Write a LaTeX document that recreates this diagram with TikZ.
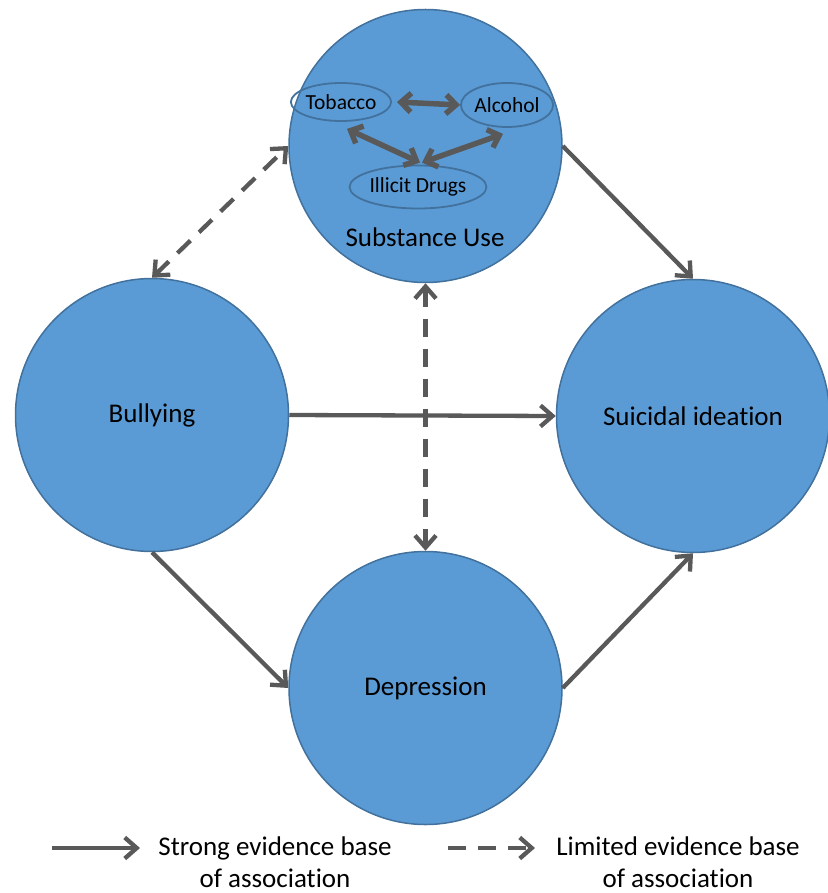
\documentclass[tikz,border=0pt]{standalone}
\usepackage{fontspec}
\setmainfont{Carlito}[Ligatures=CommonOff]
\usetikzlibrary{arrows.meta,shapes.geometric}
\definecolor{cfill}{HTML}{5B9BD5}
\definecolor{cedge}{HTML}{41719C}
\definecolor{carrow}{HTML}{595959}
\begin{document}
\begin{tikzpicture}[x=1pt,y=-1pt,
  tip/.tip={Straight Barb[length=12pt,width=21pt]},
  itip/.tip={Straight Barb[length=10pt,width=19pt]},
  big/.style={circle, fill=cfill, draw=cedge, line width=1.5pt, minimum size=273pt, inner sep=0pt, font=\fontsize{27}{32}\selectfont},
  small/.style={ellipse, draw=cedge, line width=1.8pt, inner sep=0pt, font=\fontsize{21.5}{26}\selectfont},
  link/.style={draw=carrow, line width=4.3pt, -tip},
  dlink/.style={draw=carrow, line width=4.3pt, dash pattern=on 18pt off 12pt, tip-tip},
  inlink/.style={draw=carrow, line width=5.5pt, itip-itip},
  legtext/.style={align=center, inner sep=0pt, font=\fontsize{27}{32}\selectfont}]
\useasboundingbox (0,0) rectangle (827,893);
\fill[white] (0,0) rectangle (827,893);

\node[big] (su) at (425.5,146) {};
\node[big] (bul) at (152,415) {Bullying};
\node[big] (si) at (693,416) {Suicidal ideation};
\node[big] (dep) at (425.5,688) {Depression};

\node[small, minimum width=91pt, minimum height=38pt] (tob) at (341,102) {Tobacco};
\node[small, minimum width=91pt, minimum height=44pt] (alc) at (507,105) {Alcohol};
\node[small, minimum width=137pt, minimum height=43pt] (ill) at (418,187) {Illicit Drugs};
\node[font=\fontsize{27}{32}\selectfont] (sul) at (425,237) {Substance Use};

\draw[inlink] ([xshift=5pt]tob.east) -- (alc.west);
\draw[inlink] ([shift={(6,7)}]tob.south) -- ([shift={(2,-2)}]ill.north);
\draw[inlink] ([shift={(-4,6)}]alc.south) -- ([shift={(4,-2)}]ill.north);

\draw[link] (bul.east) -- (si.west);
\draw[link] (su.east) -- (si.north);
\draw[link] (bul.south) -- (dep.west);
\draw[link] (dep.east) -- (si.south);
\draw[dlink] (bul.north) -- (su.west);
\draw[dlink] (su.south) -- (dep.north);

\coordinate (la1) at (52,848);
\coordinate (la2) at (140,848);
\coordinate (lb1) at (448,848);
\coordinate (lb2) at (535,848);
\draw[link] (la1) -- (la2);
\draw[draw=carrow, line width=4.3pt, dash pattern=on 18pt off 12pt, -tip] (lb1) -- (lb2);
\node[legtext] (lta) at (275,862) {Strong evidence base\\of association};
\node[legtext] (ltb) at (678,862) {Limited evidence base\\of association};
\end{tikzpicture}
\end{document}
